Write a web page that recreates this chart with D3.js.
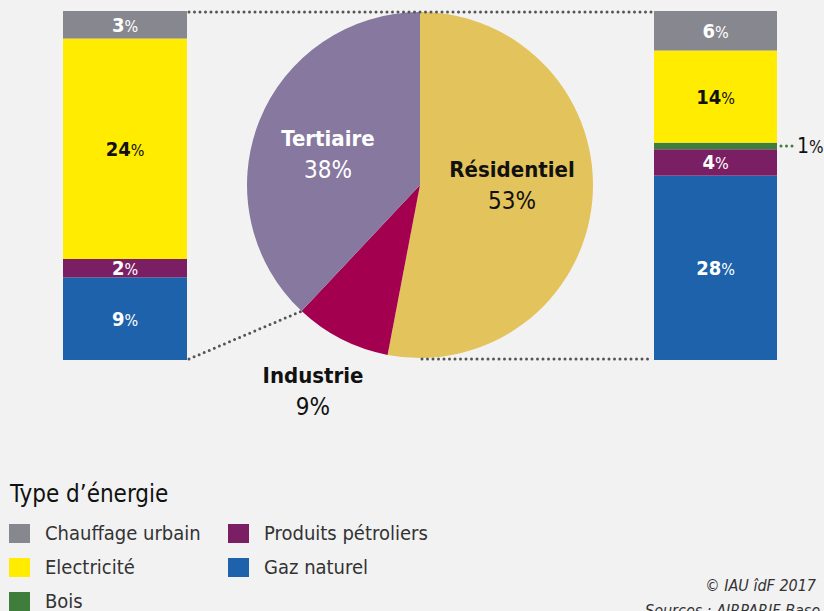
<!DOCTYPE html>
<html>
<head>
<meta charset="utf-8">
<script src="https://cdn.jsdelivr.net/npm/d3@7"></script>
<style>
  body { margin: 0; background: #f2f2f2; }
  svg { display: block; font-family: "Liberation Sans Narrow", "DejaVu Sans Condensed", sans-serif; }
</style>
</head>
<body>
<svg id="chart" width="824" height="611"></svg>
<script>
// sectors of the pie
var sectors = ["Résidentiel", "Industrie", "Tertiaire"];
var sectorShares = [53, 9, 38];

// energy types, from top of bar to bottom
var energyTypes = ["Chauffage urbain", "Electricité", "Bois", "Produits pétroliers", "Gaz naturel"];
var tertiaireValues = [3, 24, 0, 2, 9];
var residentielValues = [6, 14, 1, 4, 28];

var energyColors = ["#87888f", "#ffec00", "#3f7d3d", "#7a1f63", "#1d62ab"];
var labelColors = ["#fff", "#111", "#fff", "#fff", "#fff"];
var sectorColors = ["#e3c35b", "#a3004f", "#86789f"];

var svg = d3.select("#chart");
var g = svg.append("g");

var barTop = 11, barBottom = 360;

//pie
var cx = 420, cy = 185, r = 173;
var pie = d3.pie().sort(null).value(function(d) { return d; });
var arcs = pie(sectorShares);
var arc = d3.arc().innerRadius(0).outerRadius(r);

var pieG = g.append("g").attr("transform", "translate(" + cx + "," + cy + ")");
pieG.selectAll("path")
  .data(arcs)
  .enter().append("path")
  .attr("d", arc)
  .style("fill", function(d, i) { return sectorColors[i]; });

function onCircle(a) {
  return [cx + r * Math.sin(a), cy - r * Math.cos(a)];
}

//bars
function drawBar(values, x0, x1, showLabel) {
  var total = d3.sum(values);
  var y = d3.scaleLinear().domain([0, total]).range([barBottom, barTop]);
  // stack from the bottom: last item first
  var acc = 0, segs = [];
  for (var i = values.length - 1; i >= 0; i--) {
    segs.push({ i: i, v: values[i], y0: acc, y1: acc + values[i] });
    acc += values[i];
  }
  segs = segs.filter(function(s) { return s.v > 0; });
  var bg = g.append("g");
  bg.selectAll("rect")
    .data(segs)
    .enter().append("rect")
    .attr("x", x0)
    .attr("width", x1 - x0)
    .attr("y", function(d) { return y(d.y1); })
    .attr("height", function(d) { return y(d.y0) - y(d.y1); })
    .style("fill", function(d) { return energyColors[d.i]; });

  var t = bg.selectAll("text")
    .data(segs.filter(function(d) { return showLabel(d); }))
    .enter().append("text")
    .attr("x", (x0 + x1) / 2)
    .attr("y", function(d) { return (y(d.y0) + y(d.y1)) / 2 + 7; })
    .attr("text-anchor", "middle")
    .style("font-size", "20px")
    .style("fill", function(d) { return labelColors[d.i]; });
  t.append("tspan").style("font-weight", "bold").text(function(d) { return d.v; });
  t.append("tspan").style("font-size", "16px").text("%");
  return { y: y, segs: segs };
}

var left = drawBar(tertiaireValues, 63, 187, function() { return true; });
var right = drawBar(residentielValues, 654, 777, function(d) { return d.v > 1; });

// dotted connectors
function dotted(x1, y1, x2, y2, col) {
  g.append("line")
    .attr("x1", x1).attr("y1", y1).attr("x2", x2).attr("y2", y2)
    .style("stroke", col || "#555")
    .style("stroke-width", 3)
    .style("stroke-linecap", "round")
    .style("stroke-dasharray", "0,5.5");
}
dotted(189, barTop + 1, 652, barTop + 1);
var pBoundary = onCircle(arcs[1].endAngle);
dotted(189, barBottom - 1, pBoundary[0], pBoundary[1]);
var pBottom = onCircle(Math.PI);
dotted(pBottom[0] + 2, barBottom - 1, 652, barBottom - 1);

// the 1% of wood, outside the bar
var bois = right.segs.filter(function(d) { return energyTypes[d.i] == "Bois"; })[0];
var by = (right.y(bois.y0) + right.y(bois.y1)) / 2;
dotted(781, by, 795, by, "#3f7d3d");
var bt = g.append("text").attr("x", 797).attr("y", by + 7).style("font-size", "21px").style("fill", "#111");
bt.append("tspan").text(bois.v);
bt.append("tspan").style("font-size", "17px").text("%");

// pie labels
var pieLabels = [
  { x: 512, y: 177, c: "#111" },
  { x: 313, y: 383, c: "#111" },
  { x: 328, y: 146, c: "#fff" }
];
arcs.forEach(function(a, i) {
  var p = pieLabels[i];
  var t = g.append("text")
    .attr("x", p.x).attr("y", p.y)
    .attr("text-anchor", "middle")
    .style("font-size", "24px")
    .style("fill", p.c);
  t.append("tspan").style("font-weight", "bold").style("font-size", "22px").text(sectors[i]);
  t.append("tspan").attr("x", p.x).attr("dy", 32).text(sectorShares[i] + "%");
});

// legend
var leg = g.append("g");
leg.append("text").attr("x", 10).attr("y", 502)
  .style("font-size", "24px").style("fill", "#111")
  .text("Type d\u2019énergie");
var legendPos = [[9, 533], [9, 567], [9, 601], [228, 533], [228, 567]];
var legendOrder = [0, 1, 2, 3, 4];
var items = leg.selectAll("g.item")
  .data(legendOrder)
  .enter().append("g")
  .attr("class", "item")
  .attr("transform", function(d, k) { return "translate(" + legendPos[k][0] + "," + legendPos[k][1] + ")"; });
items.append("rect")
  .attr("x", 0).attr("y", -9).attr("width", 21).attr("height", 19)
  .style("fill", function(d) { return energyColors[d]; });
items.append("text")
  .attr("x", 36).attr("y", 7)
  .style("font-size", "20px").style("fill", "#333")
  .text(function(d) { return energyTypes[d]; });

// credits
g.append("text").attr("x", 816).attr("y", 591).attr("text-anchor", "end")
  .style("font-size", "16px").style("font-style", "italic").style("fill", "#333")
  .text("© IAU îdF 2017");
g.append("text").attr("x", 645).attr("y", 616)
  .style("font-size", "16px").style("font-style", "italic").style("fill", "#333")
  .text("Sources : AIRPARIF Base de données");
</script>
</body>
</html>
